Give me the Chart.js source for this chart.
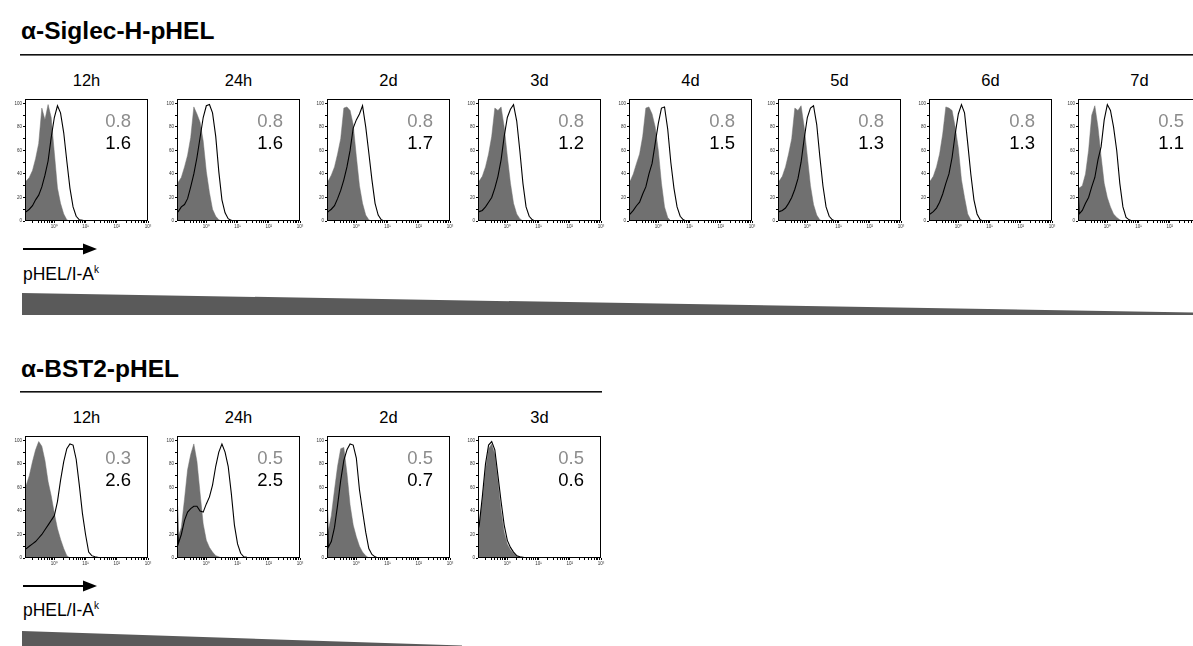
<!DOCTYPE html>
<html>
<head>
<meta charset="utf-8">
<script src="https://cdn.jsdelivr.net/npm/chart.js@4.4.1/dist/chart.umd.min.js"></script>
<style>
  body { margin: 0; width: 1193px; height: 646px; overflow: hidden; background: #fff; position: relative;
         font-family: "Liberation Sans", Arial, sans-serif; color: #000; }
  .title { position: absolute; left: 21px; font-size: 24.5px; line-height: 24px; font-weight: bold; white-space: nowrap; }
  .col { position: absolute; width: 123px; text-align: center; font-size: 16.5px; line-height: 16px; }
  .xlab { position: absolute; left: 23px; font-size: 17.5px; line-height: 18px; white-space: nowrap; }
  .xlab sup { font-size: 10px; vertical-align: 7px; }
  canvas { position: absolute; }
  svg { position: absolute; left: 0; top: 0; }
</style>
</head>
<body>
<svg width="1193" height="646">
  <rect x="20" y="54" width="1173" height="1.6" fill="#111"/>
  <rect x="20" y="391" width="582" height="1.6" fill="#111"/>
  <line x1="23" y1="249" x2="86" y2="249" stroke="#000" stroke-width="2"/>
  <polygon points="83,243.5 97,249 83,254.5" fill="#000"/>
  <line x1="23" y1="586" x2="86" y2="586" stroke="#000" stroke-width="2"/>
  <polygon points="83,580.5 97,586 83,591.5" fill="#000"/>
  <polygon points="22,293 1193,312.5 1193,315 22,315" fill="#5a5a5a"/>
  <polygon points="22,631 462,645.5 462,647 22,647" fill="#5a5a5a"/>
</svg>
<div class="title" style="top:19px">α-Siglec-H-pHEL</div>
<div class="title" style="top:357px">α-BST2-pHEL</div>
<div class="xlab" style="top:261px">pHEL/I-A<sup>k</sup></div>
<div class="xlab" style="top:597px">pHEL/I-A<sup>k</sup></div>

<script>
// fluorescence bins (log spaced) shared by every histogram
const xBins = [0.115, 0.126, 0.158, 0.2, 0.251, 0.316, 0.398, 0.501, 0.631, 0.794, 1, 1.26, 1.58, 2,
  2.51, 3.16, 3.98, 5.01, 6.31, 7.94, 10, 12.6, 15.8, 20, 31.6, 100, 1000];

const xTickValues = [1, 10, 100, 1000];
const xTickLabels = ['10⁰', '10¹', '10²', '10³'];
const xMinorTicks = [0.2, 0.3, 0.4, 0.5, 0.6, 0.7, 0.8, 0.9, 1, 2, 3, 4, 5, 6, 7, 8, 9, 10,
  20, 30, 40, 50, 60, 70, 80, 90, 100, 200, 300, 400, 500, 600, 700, 800, 900, 1000];
const yTickValues = [0, 10, 20, 30, 40, 50, 60, 70, 80, 90, 100];
const yTickLabels = ['0', '', '20', '', '40', '', '60', '', '80', '', '100'];

// α-Siglec-H-pHEL row
const topTimes = ['12h', '24h', '2d', '3d', '4d', '5d', '6d', '7d'];
const topGrayNums = ['0.8', '0.8', '0.8', '0.8', '0.8', '0.8', '0.8', '0.5'];
const topBlackNums = ['1.6', '1.6', '1.7', '1.2', '1.5', '1.3', '1.3', '1.1'];

const sig12hGray  = [33, 34, 37, 43, 53, 66, 96, 86, 99, 88, 58, 28, 15, 6, 1, 0, 0, 0, 0, 0, 0, 0, 0, 0, 0, 0, 0];
const sig12hBlack = [8, 8, 10, 13, 18, 22, 29, 39, 51, 71, 88, 98, 92, 75, 51, 28, 12, 4, 1, 0.5, 0, 0, 0, 0, 0, 0, 0];
const sig24hGray  = [32, 33, 37, 46, 56, 71, 97, 91, 84, 68, 42, 24, 10, 4, 1, 0, 0, 0, 0, 0, 0, 0, 0, 0, 0, 0, 0];
const sig24hBlack = [8, 8, 12, 14, 19, 29, 40, 54, 71, 88, 98, 99, 92, 72, 42, 18, 7, 2, 0.5, 0, 0, 0, 0, 0, 0, 0, 0];
const sig2dGray   = [33, 34, 39, 46, 57, 70, 96, 97, 94, 82, 55, 30, 15, 5, 1, 0, 0, 0, 0, 0, 0, 0, 0, 0, 0, 0, 0];
const sig2dBlack  = [7, 8, 10, 13, 19, 26, 35, 46, 60, 79, 86, 91, 98, 80, 58, 35, 15, 5, 1, 0, 0, 0, 0, 0, 0, 0, 0];
const sig3dGray   = [33, 34, 38, 46, 57, 72, 96, 94, 97, 80, 55, 32, 15, 6, 2, 0, 0, 0, 0, 0, 0, 0, 0, 0, 0, 0, 0];
const sig3dBlack  = [8, 8, 9, 12, 16, 20, 28, 38, 52, 72, 88, 95, 99, 85, 60, 32, 12, 4, 1, 0, 0, 0, 0, 0, 0, 0, 0];
const sig4dGray   = [33, 34, 40, 49, 57, 72, 96, 97, 91, 80, 60, 32, 12, 3, 0, 0, 0, 0, 0, 0, 0, 0, 0, 0, 0, 0, 0];
const sig4dBlack  = [5, 6, 9, 13, 16, 23, 29, 40, 49, 66, 83, 96, 97, 78, 50, 28, 12, 4, 1, 0, 0, 0, 0, 0, 0, 0, 0];
const sig5dGray   = [33, 34, 38, 46, 57, 70, 96, 94, 98, 80, 55, 30, 14, 5, 1, 0, 0, 0, 0, 0, 0, 0, 0, 0, 0, 0, 0];
const sig5dBlack  = [8, 8, 9, 11, 15, 20, 27, 36, 50, 70, 88, 96, 98, 82, 55, 30, 12, 4, 1, 0, 0, 0, 0, 0, 0, 0, 0];
const sig6dGray   = [33, 34, 38, 46, 57, 74, 97, 96, 94, 80, 62, 35, 20, 6, 1, 0, 0, 0, 0, 0, 0, 0, 0, 0, 0, 0, 0];
const sig6dBlack  = [6, 6, 8, 11, 16, 23, 32, 40, 54, 74, 91, 99, 92, 66, 40, 18, 6, 1, 0, 0, 0, 0, 0, 0, 0, 0, 0];
const sig7dGray   = [30, 28, 30, 40, 60, 90, 98, 80, 55, 32, 20, 12, 6, 3, 1, 0, 0, 0, 0, 0, 0, 0, 0, 0, 0, 0, 0];
const sig7dBlack  = [30, 6, 9, 15, 20, 29, 37, 52, 63, 86, 99, 94, 80, 60, 32, 12, 3, 1, 0, 0, 0, 0, 0, 0, 0, 0, 0];

// α-BST2-pHEL row
const bottomTimes = ['12h', '24h', '2d', '3d'];
const bottomGrayNums = ['0.3', '0.5', '0.5', '0.5'];
const bottomBlackNums = ['2.6', '2.5', '0.7', '0.6'];

const bst12hGray  = [61, 62, 70, 82, 92, 99, 95, 83, 65, 53, 38, 25, 16, 8, 2, 0, 0, 0, 0, 0, 0, 0, 0, 0, 0, 0, 0];
const bst12hBlack = [8, 8, 10, 12, 14, 17, 20, 24, 28, 32, 36, 48, 66, 82, 93, 97, 96, 84, 62, 38, 20, 5, 2, 1, 0, 0, 0];
const bst24hGray  = [15, 18, 26, 50, 75, 88, 97, 82, 55, 29, 15, 9, 5, 2, 1, 0, 0, 0, 0, 0, 0, 0, 0, 0, 0, 0, 0];
const bst24hBlack = [65, 12, 20, 32, 39, 42, 44, 44, 40, 39, 46, 52, 62, 78, 90, 97, 90, 78, 55, 28, 12, 4, 1, 0.5, 0, 0, 0];
const bst2dGray   = [20, 23, 36, 58, 78, 93, 94, 72, 45, 28, 18, 10, 5, 2, 0, 0, 0, 0, 0, 0, 0, 0, 0, 0, 0, 0, 0];
const bst2dBlack  = [62, 9, 14, 26, 45, 66, 83, 92, 97, 96, 85, 58, 40, 22, 8, 3, 1, 0, 0, 0, 0, 0, 0, 0, 0, 0, 0];
const bst3dGray   = [20, 28, 48, 75, 93, 97, 88, 65, 40, 22, 12, 7, 4, 2, 1, 0, 0, 0, 0, 0, 0, 0, 0, 0, 0, 0, 0];
const bst3dBlack  = [24, 28, 52, 80, 96, 99, 92, 70, 48, 28, 15, 9, 5, 2, 1, 0.5, 0, 0, 0, 0, 0, 0, 0, 0, 0, 0, 0];

const topGray = [sig12hGray, sig24hGray, sig2dGray, sig3dGray, sig4dGray, sig5dGray, sig6dGray, sig7dGray];
const topBlack = [sig12hBlack, sig24hBlack, sig2dBlack, sig3dBlack, sig4dBlack, sig5dBlack, sig6dBlack, sig7dBlack];
const bottomGray = [bst12hGray, bst24hGray, bst2dGray, bst3dGray];
const bottomBlack = [bst12hBlack, bst24hBlack, bst2dBlack, bst3dBlack];

const panelLefts = [25, 177, 327, 478, 629, 778, 929, 1078];
const PLOT_W = 123, PLOT_H = 123, AXIS_W = 20, AXIS_H = 12, PAD_TOP = 3, PAD_RIGHT = 6;
const FONT = '"Liberation Sans", Arial, sans-serif';

const framePlugin = {
  id: 'frame',
  afterDraw(chart) {
    const a = chart.chartArea, ctx = chart.ctx;
    ctx.save();
    ctx.strokeStyle = '#000';
    ctx.lineWidth = 1;
    ctx.strokeRect(Math.round(a.left) + 0.5, Math.round(a.top) + 0.5,
      Math.round(a.right - a.left) - 1, Math.round(a.bottom - a.top) - 1);
    // the two MFI readouts
    const o = chart.options.plugins.readout;
    ctx.font = '18.5px ' + FONT;
    ctx.textAlign = 'right';
    ctx.textBaseline = 'alphabetic';
    ctx.fillStyle = '#8c8c8c';
    ctx.fillText(o.gray, a.right - 17, a.top + 28);
    ctx.fillStyle = '#000';
    ctx.fillText(o.black, a.right - 17, a.top + 50);
    ctx.restore();
  }
};

function makePanel(left, plotTop, label, grayVals, blackVals, grayNum, blackNum) {
  const c = document.createElement('canvas');
  c.width = AXIS_W + PLOT_W + PAD_RIGHT;
  c.height = PAD_TOP + PLOT_H + AXIS_H;
  c.style.left = (left - AXIS_W) + 'px';
  c.style.top = (plotTop - PAD_TOP) + 'px';
  document.body.appendChild(c);

  const t = document.createElement('div');
  t.className = 'col';
  t.textContent = label;
  t.style.left = left + 'px';
  t.style.top = (plotTop - 26) + 'px';
  document.body.appendChild(t);

  new Chart(c.getContext('2d'), {
    type: 'line',
    data: {
      datasets: [
        {
          data: blackVals.map((v, i) => ({ x: xBins[i], y: v })),
          borderColor: '#000', borderWidth: 1.1, pointRadius: 0, fill: false, tension: 0, order: 0
        },
        {
          data: grayVals.map((v, i) => ({ x: xBins[i], y: v })),
          borderColor: '#707070', borderWidth: 0.5, backgroundColor: '#707070',
          pointRadius: 0, fill: 'origin', tension: 0, order: 1
        }
      ]
    },
    options: {
      responsive: false, animation: false, events: [],
      layout: { padding: { top: PAD_TOP, right: PAD_RIGHT, left: 0, bottom: 0 } },
      plugins: { legend: { display: false }, tooltip: { enabled: false }, readout: { gray: grayNum, black: blackNum } },
      scales: {
        x: {
          type: 'logarithmic', min: 0.115, max: 1000,
          afterBuildTicks: s => { s.ticks = xMinorTicks.map(v => ({ value: v })); },
          afterFit: s => { s.height = AXIS_H; },
          grid: { drawOnChartArea: false, tickLength: 2, color: '#000' },
          border: { display: false },
          ticks: {
            autoSkip: false, maxRotation: 0, minRotation: 0, padding: 1, color: '#333',
            font: { size: 4.5, family: FONT },
            callback: v => { const k = xTickValues.indexOf(v); return k < 0 ? '' : xTickLabels[k]; }
          }
        },
        y: {
          min: 0, max: 104,
          afterBuildTicks: s => { s.ticks = yTickValues.map(v => ({ value: v })); },
          afterFit: s => { s.width = AXIS_W; },
          grid: { drawOnChartArea: false, tickLength: 2, color: '#000' },
          border: { display: false },
          ticks: {
            padding: 1, color: '#333', font: { size: 4.5, family: FONT },
            callback: v => { const k = yTickValues.indexOf(v); return k < 0 ? '' : yTickLabels[k]; }
          }
        }
      }
    },
    plugins: [framePlugin]
  });
}

topTimes.forEach((t, i) => makePanel(panelLefts[i], 98, t, topGray[i], topBlack[i], topGrayNums[i], topBlackNums[i]));
bottomTimes.forEach((t, i) => makePanel(panelLefts[i], 435, t, bottomGray[i], bottomBlack[i], bottomGrayNums[i], bottomBlackNums[i]));
</script>
</body>
</html>
